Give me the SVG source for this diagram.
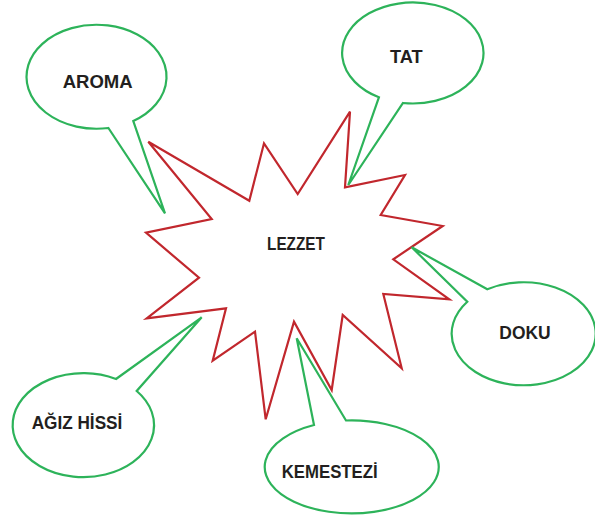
<svg xmlns="http://www.w3.org/2000/svg" width="595" height="515" viewBox="0 0 595 515">
<style>
.star{fill:#fff;stroke:#C1272D;stroke-width:2.2;stroke-linejoin:miter}
.call{fill:#fff;stroke:#2DB35A;stroke-width:2.2;stroke-linejoin:miter}
.lbl{font-family:"Liberation Sans",Arial,sans-serif;font-weight:700;font-size:18px;fill:#231F20;text-anchor:middle}
</style>
<rect width="595" height="515" fill="#fff"/>
<g id="lezzet">
<polygon class="star" points="148.3,141.7 211.7,219 146,232.7 199,277.7 146.7,318.3 226,308.3 212.7,360.7 255,331.7 265.7,419.3 294,321.7 331.7,390 342.7,315 401.7,368.3 383.3,294 449.3,299.3 393.3,259.3 442.7,226 380.7,215 405,175 345,187.3 350,111.7 297.7,194 264,143.3 249.3,200.7"/>
<text class="lbl" x="296" y="250" textLength="58" lengthAdjust="spacingAndGlyphs">LEZZET</text>
</g>
<g id="connectors">
<g id="aroma">
<path class="call" d="M108.4,128 L165,213.3 L133.3,121 A70 52 0 1 0 108.4,128 Z"/>
<text class="lbl" x="97.7" y="87.7" textLength="70" lengthAdjust="spacingAndGlyphs">AROMA</text>
</g>
<g id="tat">
<path class="call" d="M378.9,97.3 L348.3,185 L403,103 A70.7 50.5 0 1 0 378.9,97.3 Z"/>
<text class="lbl" x="406.3" y="62.7" textLength="32.7" lengthAdjust="spacingAndGlyphs">TAT</text>
</g>
<g id="doku">
<path class="call" d="M487.3,289.3 L411.7,247.3 L467.3,301.7 A72 51.5 0 1 0 487.3,289.3 Z"/>
<text class="lbl" x="525" y="339" textLength="51.3" lengthAdjust="spacingAndGlyphs">DOKU</text>
</g>
<g id="agiz-hissi">
<path class="call" d="M116,379 L201.7,317.3 L136.7,391 A70.7 52 0 1 1 116,379 Z"/>
<text class="lbl" x="77" y="429" textLength="90.7" lengthAdjust="spacingAndGlyphs">AĞIZ HİSSİ</text>
</g>
<g id="kemestezi">
<path class="call" d="M314,425 L296.7,338.3 L346,420.5 A87 46.5 0 1 1 314,425 Z"/>
<text class="lbl" x="329.7" y="477.7" textLength="96" lengthAdjust="spacingAndGlyphs">KEMESTEZİ</text>
</g>
</g>
</svg>
